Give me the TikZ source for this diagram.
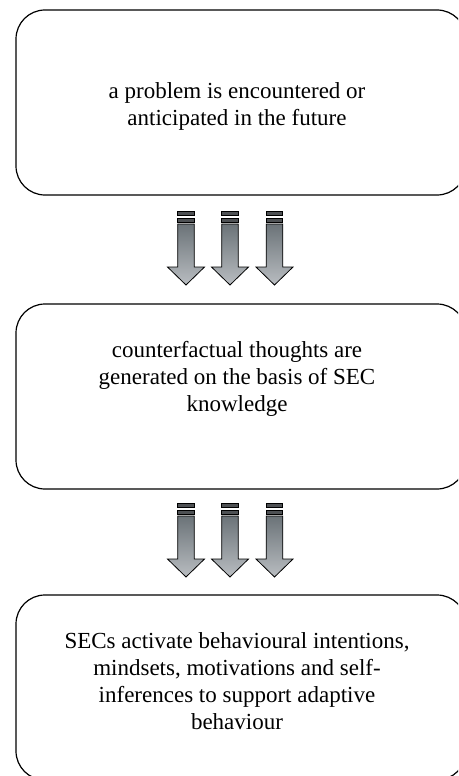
\documentclass[tikz,border=0pt]{standalone}
\usepackage{fontspec}
\setmainfont{Liberation Serif}
\usepackage{tikz}

\definecolor{shafttop}{HTML}{6B7378}
\definecolor{shaftbot}{HTML}{B9BDC1}
\definecolor{stripegray}{HTML}{4E5154}

\tikzset{
    stepbox/.style={draw=black, line width=1.2pt, rounded corners=29pt,
        minimum width=450pt, minimum height=185pt, inner sep=0pt},
    steptext/.style={font=\fontsize{23}{27}\selectfont, align=center},
}

% one block arrow, #1 = centre x, #2 = top of the stripes
\newcommand{\blockarrow}[2]{
    \draw[fill=stripegray, line width=0.8pt] (#1-8.3, #2) rectangle (#1+8.3, #2+4);
    \draw[fill=stripegray, line width=0.8pt] (#1-8.3, #2+7) rectangle (#1+8.3, #2+11);
    \draw[top color=shafttop, bottom color=shaftbot, line width=0.8pt]
        (#1-8.3, #2+13) -- (#1+8.3, #2+13) -- (#1+8.3, #2+56) -- (#1+18.5, #2+56)
        -- (#1, #2+74) -- (#1-18.5, #2+56) -- (#1-8.3, #2+56) -- cycle;
}

\begin{document}
\begin{tikzpicture}[x=1pt, y=-1pt]
    \fill[white] (0,0) rectangle (458,776);
    \clip (0,0) rectangle (458,776);

    % the three boxes
    \node[stepbox] (problem) at (241, 102.5) {};
    \node[stepbox] (thoughts) at (241, 396.5) {};
    \node[stepbox] (secs) at (241, 687.5) {};

    \node[steptext] (problemtext) at (237, 106) {a problem is encountered or\\anticipated in the future};
    \node[steptext] (thoughtstext) at (237, 379) {counterfactual thoughts are\\generated on the basis of SEC\\knowledge};
    \node[steptext] (secstext) at (237, 681) {SECs activate behavioural intentions,\\mindsets, motivations and self-\\inferences to support adaptive\\behaviour};

    % arrows between the boxes
    \foreach \x in {186, 230, 274.5} {
        \blockarrow{\x}{211}
        \blockarrow{\x}{503}
    }
\end{tikzpicture}
\end{document}
